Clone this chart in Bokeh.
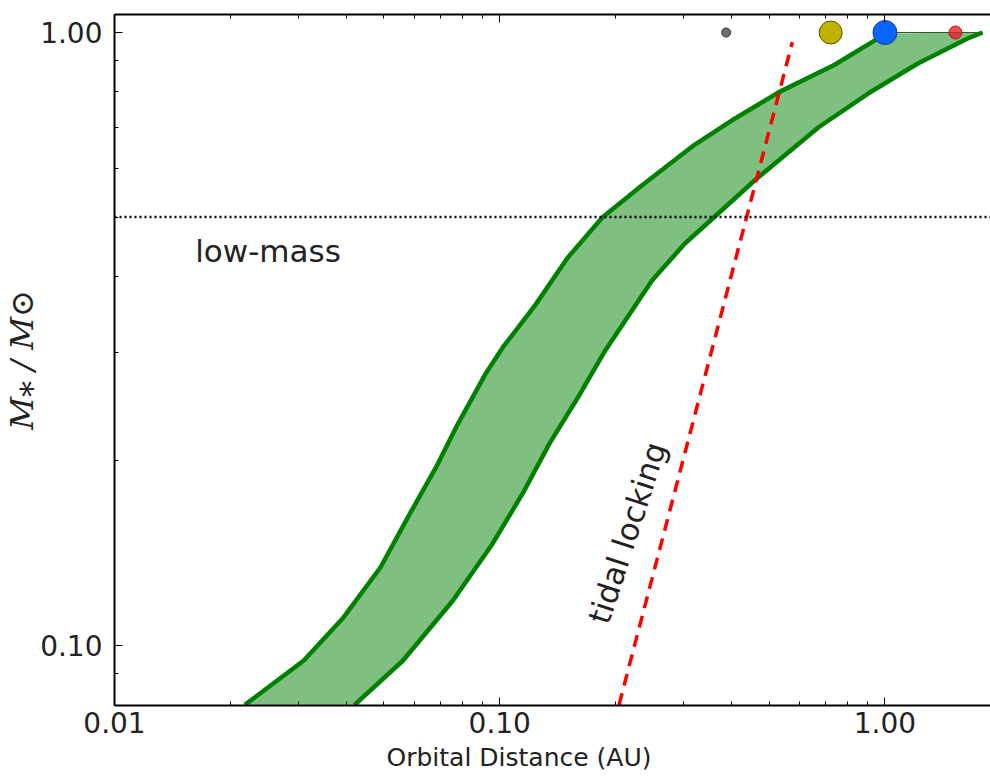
import numpy as np
from bokeh.plotting import figure
from bokeh.models import (FixedTicker, CustomJSTickFormatter, LogAxis, Range1d,
                          Span, ColumnDataSource, Title)
from bokeh.core.properties import value
from bokeh.embed import file_html
from bokeh.resources import INLINE

# ---------------- data ----------------
# inner (hot) edge of the habitable zone
inner_mass = [0.0800, 0.0945, 0.1111, 0.1340, 0.1642, 0.1952, 0.2268, 0.2779,
              0.3063, 0.3598, 0.4283, 0.4991, 0.5634, 0.6564, 0.7234, 0.7986,
              0.8850, 0.9692, 0.9962]
inner_au = [0.0218, 0.0310, 0.0393, 0.0490, 0.0585, 0.0683, 0.0770, 0.0920,
            0.1018, 0.1239, 0.1497, 0.1846, 0.2342, 0.3210, 0.4072, 0.5291,
            0.7384, 0.9367, 1.0030]
# outer (cold) edge of the habitable zone
outer_mass = [0.0800, 0.0945, 0.1184, 0.1467, 0.1770, 0.2136, 0.2577, 0.3029,
              0.3938, 0.4527, 0.4991, 0.5736, 0.6999, 0.7951, 0.8901, 0.9777,
              1.0000]
outer_au = [0.0420, 0.0561, 0.0756, 0.0959, 0.1147, 0.1347, 0.1619, 0.1879,
            0.2485, 0.3024, 0.3594, 0.4586, 0.6713, 0.9040, 1.2170, 1.6390,
            1.7910]
# tidal locking radius
tidal_au = [0.204, 0.575]
tidal_mass = [0.0800, 0.965]
# low-mass star boundary
low_mass_limit = 0.5
# solar system planets
planet_names = ["Mercury", "Venus", "Earth", "Mars"]
planet_au = [0.387, 0.723, 1.0, 1.524]
planet_mass = [1.0, 1.0, 1.0, 1.0]

x_major = [0.01, 0.1, 1.0]
x_minor = [0.02, 0.03, 0.04, 0.05, 0.06, 0.07, 0.08, 0.09,
           0.2, 0.3, 0.4, 0.5, 0.6, 0.7, 0.8, 0.9]
y_major = [0.1, 1.0]
y_minor = [0.09, 0.2, 0.3, 0.4, 0.5, 0.6, 0.7, 0.8, 0.9]
x_title = "Orbital Distance (AU)"
y_title = "M\u204e / M\u2299"

# ---------------- figure ----------------
p = figure(width=990, height=779, x_axis_type="log", y_axis_type="log",
           x_range=Range1d(0.01, 1.879), y_range=Range1d(0.0798, 1.07),
           output_backend="svg", toolbar_location=None,
           min_border_left=110, min_border_right=0, min_border_top=14,
           min_border_bottom=74)
p.outline_line_color = None
p.xgrid.visible = False
p.ygrid.visible = False
p.background_fill_color = "white"
p.border_fill_color = "white"

fmt = "return tick.toFixed(2);"
for ax, maj, mnr in ((p.xaxis[0], x_major, x_minor), (p.yaxis[0], y_major, y_minor)):
    ax.ticker = FixedTicker(ticks=maj, minor_ticks=mnr)
    ax.formatter = CustomJSTickFormatter(code=fmt)
    ax.major_tick_in = 8
    ax.major_tick_out = 0
    ax.minor_tick_in = 4
    ax.minor_tick_out = 0
    ax.axis_line_width = 2
    ax.axis_line_color = "black"
    ax.major_tick_line_color = "black"
    ax.minor_tick_line_color = "black"
    ax.major_label_text_font = "DejaVu Sans"
    ax.major_label_text_font_size = "28px"
    ax.major_label_text_color = "#222222"

p.xaxis[0].major_label_standoff = 6

p.yaxis[0].axis_label = y_title
p.yaxis[0].axis_label_text_font = "DejaVu Serif"
p.yaxis[0].axis_label_text_font_size = "32px"
p.yaxis[0].axis_label_text_font_style = "italic"
p.yaxis[0].axis_label_text_color = "#222222"
p.yaxis[0].major_label_standoff = 12
p.yaxis[0].axis_label_standoff = -4

top = LogAxis(ticker=FixedTicker(ticks=x_major, minor_ticks=x_minor),
              formatter=CustomJSTickFormatter(code=fmt),
              major_tick_in=8, major_tick_out=0, minor_tick_in=4, minor_tick_out=0,
              axis_line_width=2, axis_line_color="black",
              major_label_text_font_size="8px", major_label_text_color=None,
              major_label_standoff=0)
p.add_layout(top, "above")

# x axis title (the original frame was cropped on the right, so it sits left of centre)
p.add_layout(Title(text=x_title, align="left", offset=272, text_font="DejaVu Sans",
                   text_font_size="25px", text_font_style="normal",
                   text_color="#222222", standoff=10), "below")

# habitable zone band
band_x = inner_au + outer_au[::-1]
band_y = inner_mass + outer_mass[::-1]
p.patch(band_x, band_y, fill_color="green", fill_alpha=0.5, line_color=None)
p.line([inner_au[-1], outer_au[-1]], [1.0, 1.0],
       line_color="#2f5a2f", line_width=1.2)
p.line(inner_au, inner_mass, line_color="#008000", line_width=4.5, line_join="round")
p.line(outer_au, outer_mass, line_color="#008000", line_width=4.5, line_join="round")

# low-mass boundary
p.add_layout(Span(location=low_mass_limit, dimension="width", line_color="black",
                  line_width=2.5, line_dash="2 3"))

# tidal locking line
p.line(tidal_au, tidal_mass, line_color="#ff0000", line_width=3.5, line_dash="12 8")

# planets
src = ColumnDataSource(dict(x=planet_au, y=planet_mass, name=planet_names,
                            size=[9, 23, 24, 13],
                            color=["#6e6e6e", "#bfb300", "#0a64ff", "#e8202a"],
                            line=["#333333", "#555500", "#0a3c9a", "#b02020"],
                            alpha=[1.0, 1.0, 1.0, 0.8]))
p.scatter("x", "y", size="size", fill_color="color", line_color="line",
          fill_alpha="alpha", line_width=1, source=src)

# annotations
p.text(x=[0.0162], y=[0.44], text=["low-mass"], text_font=value("DejaVu Sans"),
       text_font_size="31px", text_color="#222222", text_align="left",
       text_baseline="middle")
p.text(x=[0.2142], y=[0.1527], text=["tidal locking"], text_font=value("DejaVu Sans"),
       text_font_size="31px", text_color="#222222", text_align="center",
       text_baseline="middle", angle=72, angle_units="deg")

open("out.html", "w").write(file_html(p, INLINE))
